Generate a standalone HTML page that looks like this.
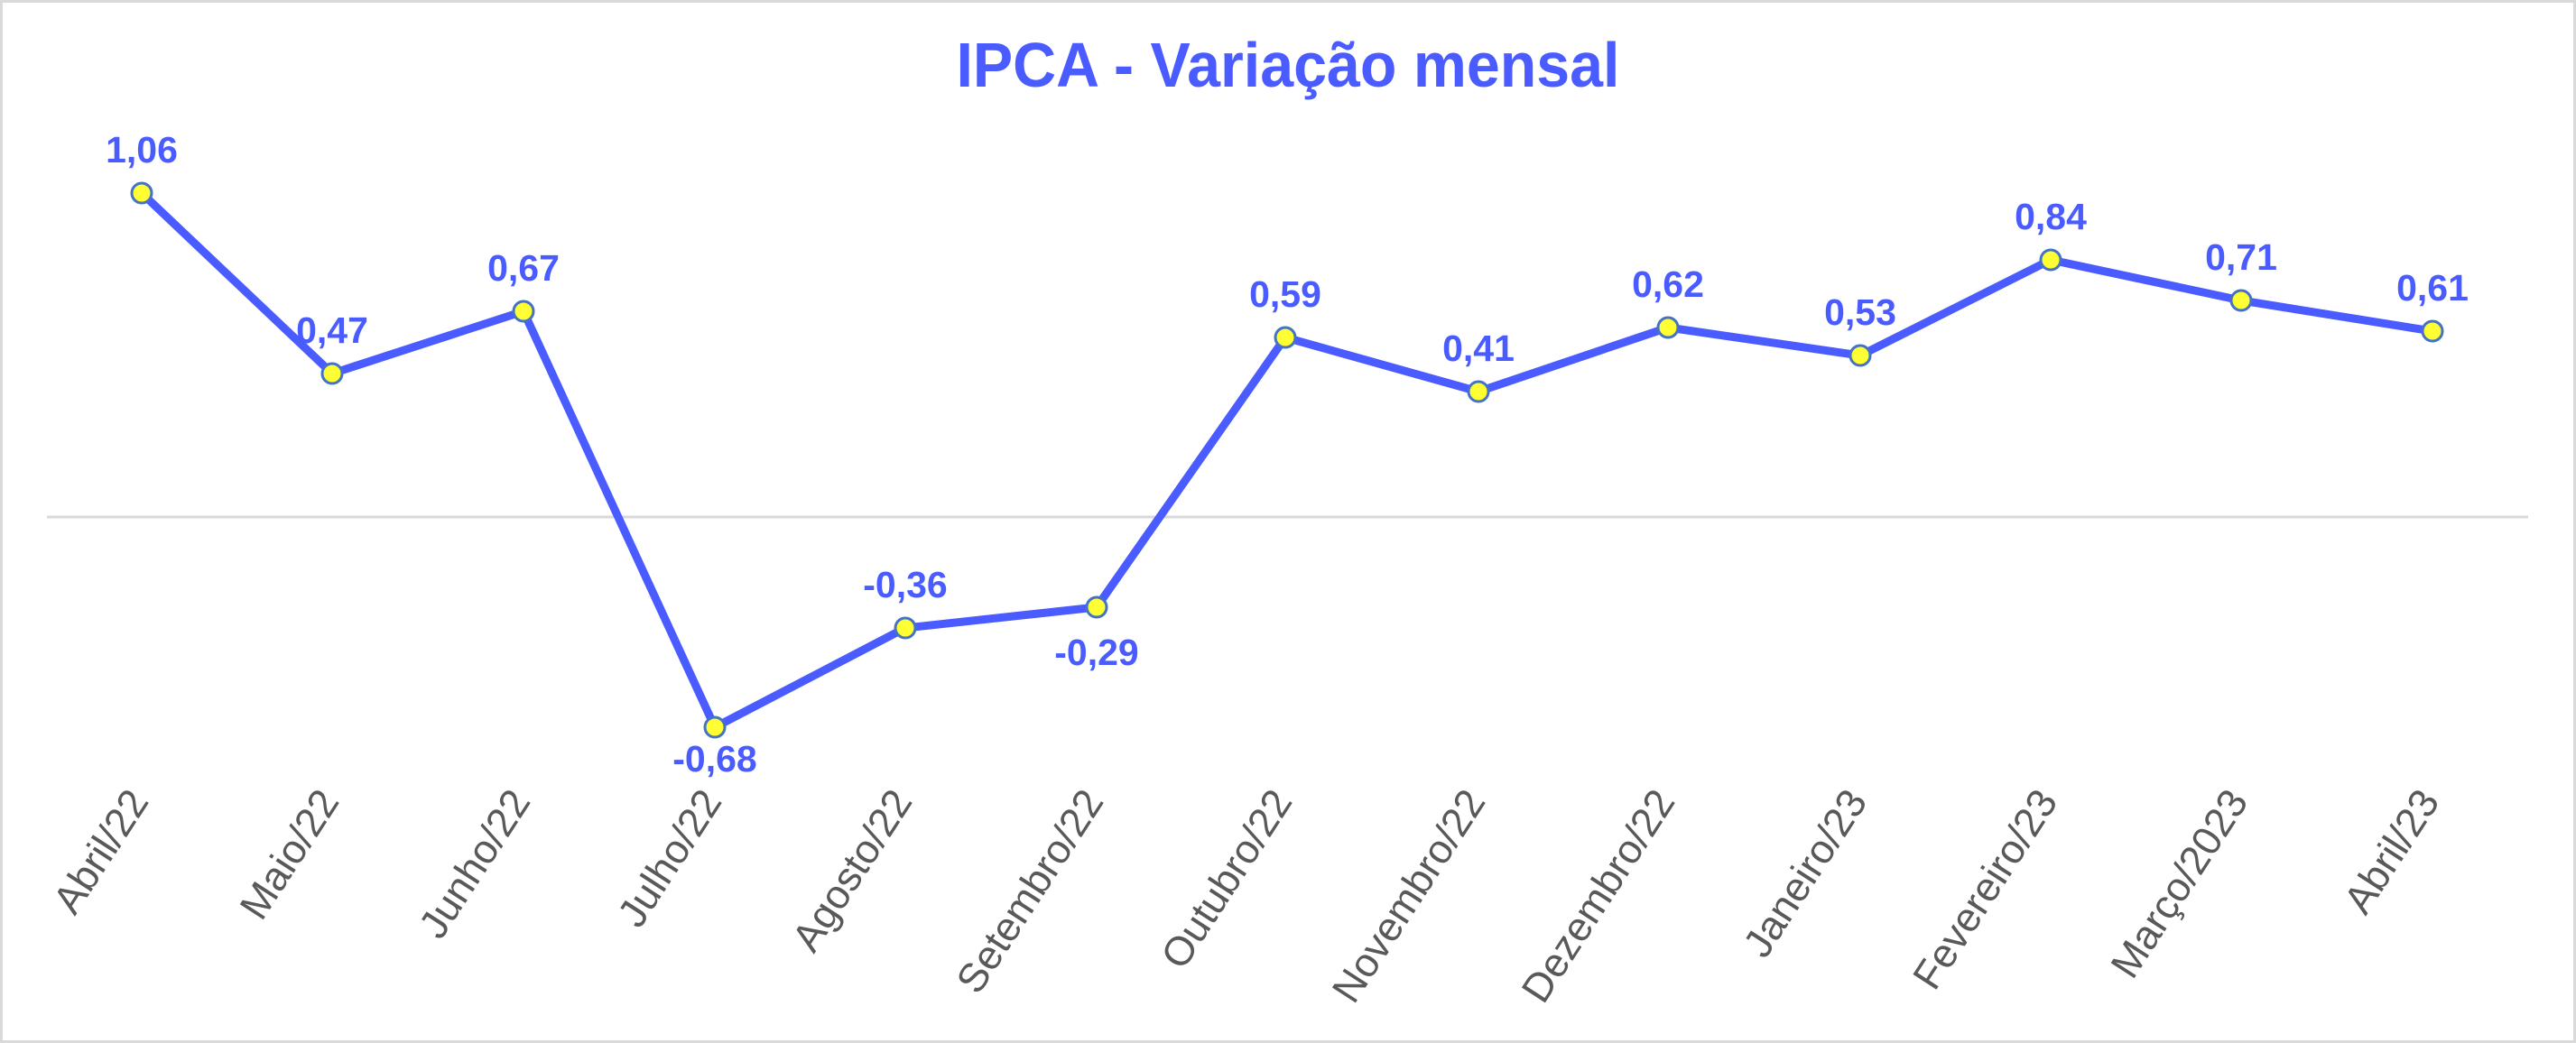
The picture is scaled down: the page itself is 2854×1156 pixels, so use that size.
<!DOCTYPE html>
<html><head><meta charset="utf-8"><style>
html,body{margin:0;padding:0;background:#fff;}
svg{display:block;}
</style></head><body>
<svg width="2854" height="1156" viewBox="0 0 2854 1156" xmlns="http://www.w3.org/2000/svg">
<rect x="1.5" y="1.5" width="2851" height="1153" fill="#fff" stroke="#d9d9d9" stroke-width="3"/>
<text x="1427" y="96" text-anchor="middle" font-family="Liberation Sans, sans-serif" font-weight="bold" font-size="70" fill="#4a5cff" textLength="735" lengthAdjust="spacingAndGlyphs">IPCA - Variação mensal</text>
<line x1="52" y1="573" x2="2801" y2="573" stroke="#d9d9d9" stroke-width="3"/>
<polyline fill="none" stroke="#4a5cff" stroke-width="9" stroke-linejoin="round" points="157,214 368,414 580,345 792,806 1003,696 1215,673 1424,374 1638,434 1848,363 2061,394 2272,288 2483,333 2695,367"/>
<g fill="#ffff33" stroke="#4472c4" stroke-width="3">
<circle cx="157" cy="214" r="11"/><circle cx="368" cy="414" r="11"/><circle cx="580" cy="345" r="11"/><circle cx="792" cy="806" r="11"/><circle cx="1003" cy="696" r="11"/><circle cx="1215" cy="673" r="11"/><circle cx="1424" cy="374" r="11"/><circle cx="1638" cy="434" r="11"/><circle cx="1848" cy="363" r="11"/><circle cx="2061" cy="394" r="11"/><circle cx="2272" cy="288" r="11"/><circle cx="2483" cy="333" r="11"/><circle cx="2695" cy="367" r="11"/>
</g>
<g font-family="Liberation Sans, sans-serif" font-weight="bold" font-size="41" fill="#4a5cff" text-anchor="middle">
<text x="157" y="180">1,06</text>
<text x="368" y="380">0,47</text>
<text x="580" y="311">0,67</text>
<text x="792" y="855">-0,68</text>
<text x="1003" y="662">-0,36</text>
<text x="1215" y="737">-0,29</text>
<text x="1424" y="340">0,59</text>
<text x="1638" y="400">0,41</text>
<text x="1848" y="329">0,62</text>
<text x="2061" y="360">0,53</text>
<text x="2272" y="254">0,84</text>
<text x="2483" y="299">0,71</text>
<text x="2695" y="333">0,61</text>
</g>
<g font-family="Liberation Sans, sans-serif" font-size="45" fill="#595959" text-anchor="end">
<text transform="translate(166,888) rotate(-57)">Abril/22</text>
<text transform="translate(377,888) rotate(-57)">Maio/22</text>
<text transform="translate(589,888) rotate(-57)">Junho/22</text>
<text transform="translate(801,888) rotate(-57)">Julho/22</text>
<text transform="translate(1012,888) rotate(-57)">Agosto/22</text>
<text transform="translate(1224,888) rotate(-57)">Setembro/22</text>
<text transform="translate(1433,888) rotate(-57)">Outubro/22</text>
<text transform="translate(1647,888) rotate(-57)">Novembro/22</text>
<text transform="translate(1857,888) rotate(-57)">Dezembro/22</text>
<text transform="translate(2070,888) rotate(-57)">Janeiro/23</text>
<text transform="translate(2281,888) rotate(-57)">Fevereiro/23</text>
<text transform="translate(2492,888) rotate(-57)">Março/2023</text>
<text transform="translate(2704,888) rotate(-57)">Abril/23</text>
</g>
</svg>
</body></html>
